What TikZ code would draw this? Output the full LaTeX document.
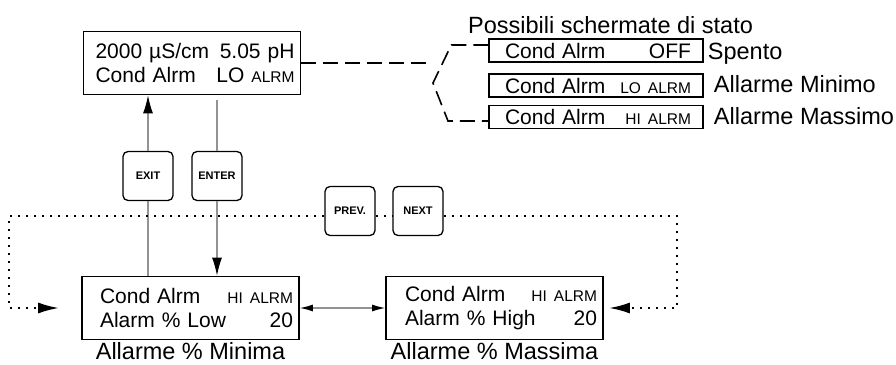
\documentclass[tikz,border=0pt]{standalone}
\usepackage{fontspec}
\setmainfont{Liberation Sans}
\usetikzlibrary{arrows.meta,positioning}
\newcommand{\sml}{\fontsize{15.5}{18}\selectfont}

\begin{document}
\begin{tikzpicture}[x=1pt, y=-1pt,
  lcd/.style={draw, line width=1.6pt, minimum width=217pt, minimum height=63pt, text width=205pt, inner xsep=6pt, inner ysep=0pt, align=left, font=\fontsize{21}{24.5}\selectfont},
  stat/.style={draw, line width=1.4pt, minimum width=214pt, minimum height=23pt, text width=190pt, inner xsep=12pt, inner ysep=0pt, align=left, font=\fontsize{21}{23}\selectfont},
  keybox/.style={draw, line width=1.3pt, rounded corners=5pt, fill=white, minimum width=50pt, minimum height=49pt, inner sep=0pt, font=\bfseries\fontsize{11}{12}\selectfont},
  capt/.style={inner sep=0pt, font=\fontsize{23.5}{26}\selectfont},
  gryline/.style={draw=gray!85, line width=1.3pt},
  arrtip/.style={-{Latex[length=18pt,width=10pt,black]}},
  dottip/.style={-{Latex[length=21pt,width=11pt,black]}},
  dashline/.style={line width=1.6pt, dash pattern=on 15pt off 7pt},
  dotline/.style={line width=2.4pt, dash pattern=on 2.4pt off 5.6pt}]

\useasboundingbox (0,0) rectangle (896,364);

% displays
\node[lcd] (disp) at (192,63) {\hspace*{6pt}2000 µS/cm\hfill 5.05 pH\\ \hspace*{6pt}Cond Alrm\hfill LO {\sml ALRM}};
\node[lcd] (lo) at (190.5,308) {\hspace*{12pt}Cond Alrm\hfill {\sml HI ALRM}\hspace*{3pt}\\ \hspace*{12pt}Alarm \% Low\hfill 20\hspace*{15pt}};
\node[lcd] (hi) at (494.5,308) {\hspace*{13pt}Cond Alrm\hfill {\sml HI ALRM}\\ \hspace*{13pt}Alarm \% High\hfill 20\hspace*{9pt}};
\node[capt, below=2pt of lo] (lolab) {Allarme \% Minima};
\node[capt, below=2pt of hi] (hilab) {Allarme \% Massima};

% possible status screens
\node[capt, anchor=west] (poss) at (468,25) {Possibili schermate di stato};
\node[stat] (off) at (596,50.5) {\hspace*{4pt}Cond Alrm\hfill OFF\hspace*{3pt}};
\node[stat] (lom) at (596,85.5) {\hspace*{4pt}Cond Alrm\hfill {\sml LO ALRM}};
\node[stat] (him) at (596,117) {\hspace*{4pt}Cond Alrm\hfill {\sml HI ALRM}};
\node[capt, right=4pt of off, yshift=-3pt] (offlab) {Spento};
\node[capt, right=10pt of lom, yshift=1pt] (lomlab) {Allarme Minimo};
\node[capt, right=10pt of him, yshift=1pt] (himlab) {Allarme Massimo};

% keys
\node[keybox] (exit) at (148,176) {EXIT};
\node[keybox] (enter) at (217,176) {ENTER};
\node[keybox] (prev) at (350,211) {PREV.};
\node[keybox] (next) at (418,211) {NEXT};

\draw[gryline] (lo.north -| exit) -- (exit.south);
\draw[gryline, arrtip] (exit.north) -- (disp.south -| exit);
\draw[gryline, shorten <=5pt] (disp.south -| enter) -- (enter.north);
\draw[gryline, arrtip] (enter.south) -- (lo.north -| enter);
\draw[gryline, {Latex[length=13pt,width=7pt,black]}-{Latex[length=13pt,width=7pt,black]}] (lo) -- (hi);

% dotted loop
\draw[dotline, dottip] ([yshift=-5pt]prev.west) -| ([xshift=-72pt]lo.west) -- ([xshift=-22pt]lo.west);
\draw[dotline] ([yshift=-5pt]prev.east) -- ([yshift=-5pt]next.west);
\draw[dotline, dottip] ([yshift=-5pt]next.east) -| ([xshift=73pt]hi.east) -- ([xshift=5pt]hi.east);

% bracket
\coordinate (brk) at (433,83);
\draw[dashline] (disp.east) -- (brk |- disp.east);
\draw[dashline] ([yshift=5.5pt]off.west) -- ++(-37,0) -- (brk) -- (448,121) -- ([yshift=-4pt]him.west);
\end{tikzpicture}
\end{document}
